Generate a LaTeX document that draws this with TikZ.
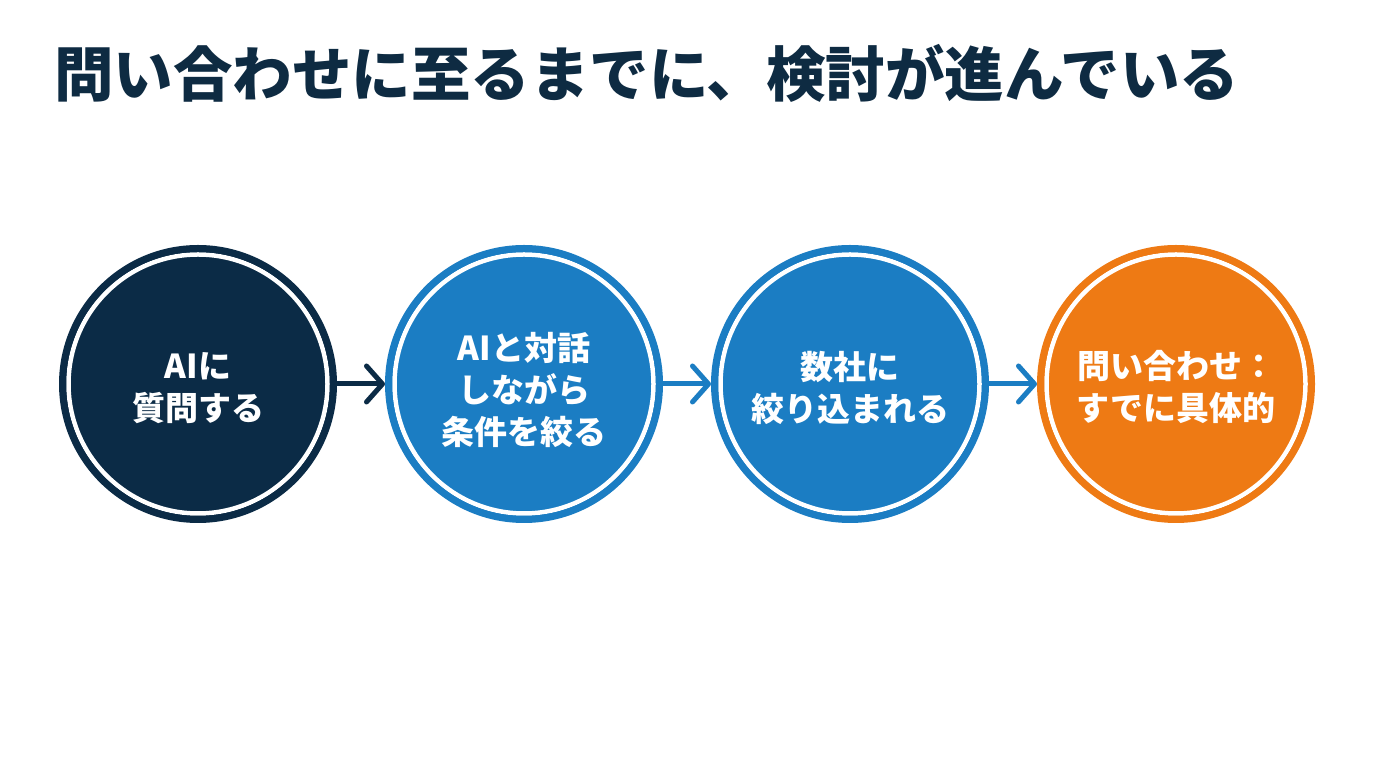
\documentclass[tikz,border=0pt]{standalone}
\usepackage{fontspec}
\setmainfont{Noto Sans CJK JP}
\usetikzlibrary{arrows.meta}
\definecolor{navy}{HTML}{0B2B46}
\definecolor{titlec}{HTML}{0E2B42}
\definecolor{bluec}{HTML}{1B7DC3}
\definecolor{orangec}{HTML}{EE7A14}
\tikzset{
  stepcircle/.style={circle, minimum size=271pt, inner sep=0pt, line width=7pt,
    draw=#1, fill=#1,
    path picture={\draw[white, line width=4.5pt] (path picture bounding box.center) circle (129.5pt);}},
  steptext/.style={text=white, align=center, inner sep=0pt,
    font=\fontsize{33}{42}\selectfont\bfseries},
  flowarrow/.style={draw=#1, line width=5pt,
    -{Straight Barb[length=16pt, width=36pt, line width=5pt, round]}}
}
\begin{document}
\begin{tikzpicture}[x=1pt, y=1pt]
\path[fill=white] (0,0) rectangle (1376,768);
\useasboundingbox (0,0) rectangle (1376,768);
\node[anchor=base west, inner sep=0pt, text=titlec, font=\fontsize{59.5}{70}\selectfont\bfseries] (title) at (54,671) {問い合わせに至るまでに、検討が進んでいる};
\node[stepcircle=navy] (c1) at (198,384) {};
\node[stepcircle=bluec] (c2) at (524,384) {};
\node[stepcircle=bluec] (c3) at (850,384) {};
\node[stepcircle=orangec] (c4) at (1176,384) {};
\node[steptext] (t1) at ([yshift=-4pt]c1.center) {AIに\\質問する};
\node[steptext] (t2) at ([yshift=-6pt]c2.center) {AIと対話\\しながら\\条件を絞る};
\node[steptext] (t3) at ([yshift=-4pt]c3.center) {数社に\\絞り込まれる};
\node[steptext] (t4) at ([yshift=-3pt]c4.center) {問い合わせ：\\すでに具体的};
\draw[flowarrow=navy] (c1) -- (c2);
\draw[flowarrow=bluec] (c2) -- (c3);
\draw[flowarrow=bluec] (c3) -- (c4);
\end{tikzpicture}
\end{document}
